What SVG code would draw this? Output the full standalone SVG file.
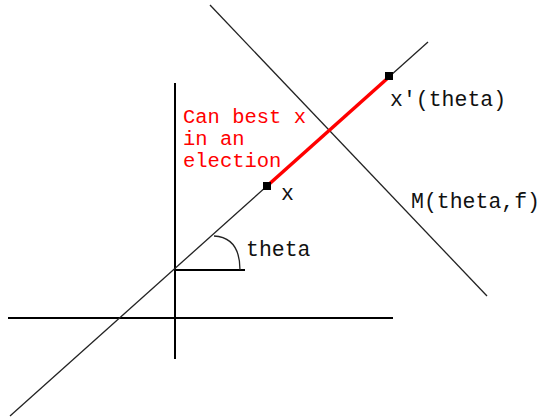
<svg xmlns="http://www.w3.org/2000/svg" width="544" height="420" viewBox="0 0 544 420">
<style>
.ax{stroke:#000;stroke-width:2;fill:none}
.ln{stroke:#222;stroke-width:1.3;fill:none}
.t{font-family:"Liberation Mono",monospace;font-size:21.5px;fill:#111}
.r{font-family:"Liberation Mono",monospace;font-size:20.5px;fill:#f00}
</style>
<rect width="544" height="420" fill="#fff"/>
<g id="connectors">
<line class="ax" x1="8" y1="318" x2="393" y2="318"/>
<line class="ax" x1="175" y1="83" x2="175" y2="359"/>
<line class="ax" x1="175" y1="270" x2="245" y2="270"/>
<line class="ln" x1="10" y1="416" x2="428" y2="42"/>
<line class="ln" x1="210" y1="5" x2="487" y2="296"/>
<path class="ln" d="M214,236 C232,237 240,250 240,270" stroke-width="1.6"/>
<line x1="267" y1="186" x2="389" y2="77" stroke="#f00" stroke-width="3.5"/>
</g>
<g id="x">
<rect x="263" y="182" width="8" height="8" fill="#000"/>
<text class="t" x="281" y="200">x</text>
</g>
<g id="xprime">
<rect x="385" y="72" width="8" height="8" fill="#000"/>
<text class="t" x="390" y="106">x'(theta)</text>
</g>
<g id="M">
<text class="t" x="411" y="208">M(theta,f)</text>
</g>
<g id="theta">
<text class="t" x="246" y="256">theta</text>
</g>
<g id="label">
<text class="r" x="183" y="123">Can best x</text>
<text class="r" x="183" y="145">in an</text>
<text class="r" x="183" y="167">election</text>
</g>
</svg>
